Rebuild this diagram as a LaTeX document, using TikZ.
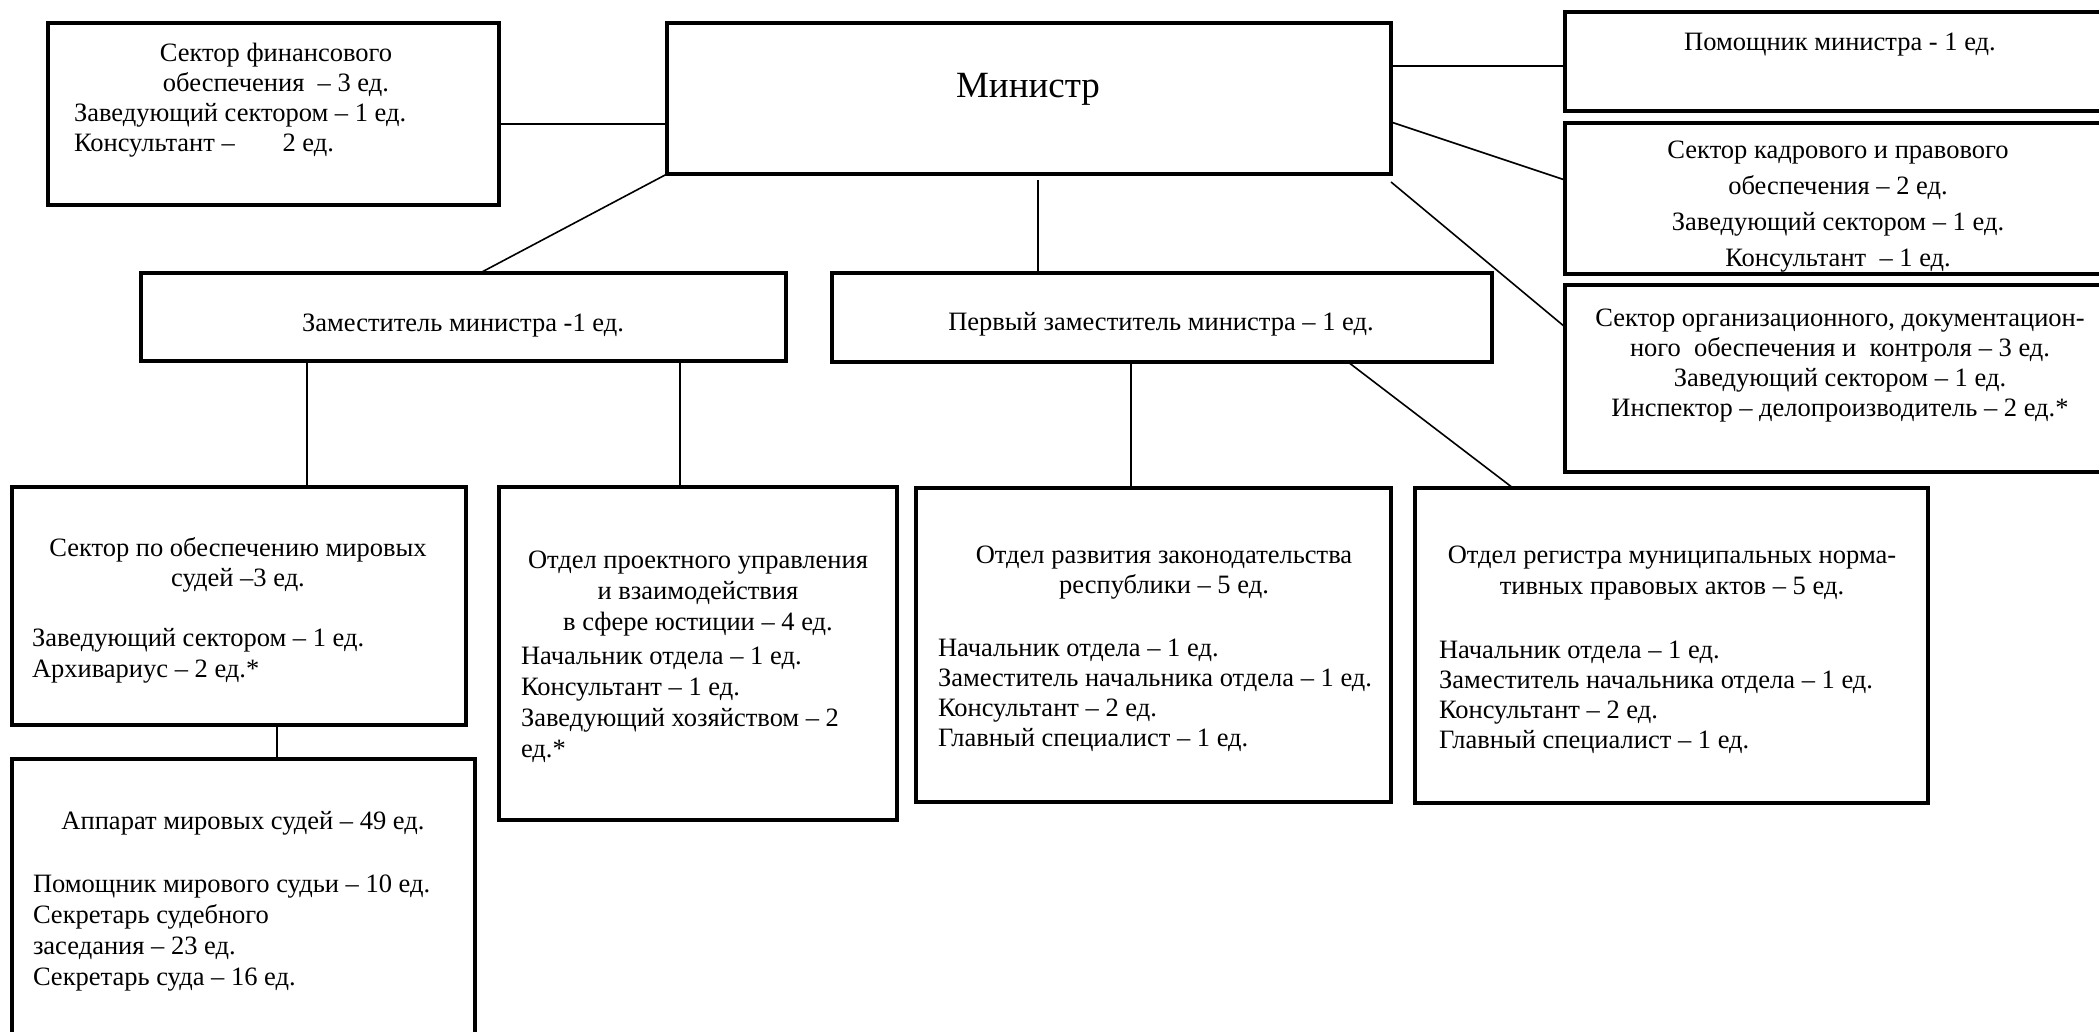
\documentclass[tikz,border=0pt]{standalone}
\usepackage{fontspec}
\setmainfont{Liberation Serif}
\newcommand\fsz[1]{\fontsize{26.5}{#1}\selectfont}
\begin{document}
\begin{tikzpicture}[x=1pt,y=-1pt,
  box/.style={draw, line width=3.2pt, inner sep=0pt, outer sep=0pt, anchor=north west},
  conn/.style={line width=1.6pt},
  ctr/.style={inner sep=0pt, outer sep=0pt, align=center, anchor=base},
  lft/.style={inner sep=0pt, outer sep=0pt, align=left, anchor=base west}]
\useasboundingbox (0,0) rectangle (2099,1031);
\clip (0,0) rectangle (2099,1031);
\fill[white] (0,0) rectangle (2099,1031);

% boxes
\node[box, minimum width=451, minimum height=182] (fin) at (48,23) {};
\node[box, minimum width=724, minimum height=151] (min) at (667,23) {};
\node[box, minimum width=560, minimum height=99] (pom) at (1565,12) {};
\node[box, minimum width=560, minimum height=151] (kad) at (1565,123) {};
\node[box, minimum width=560, minimum height=187] (org) at (1565,285) {};
\node[box, minimum width=645, minimum height=88] (zam) at (141,273) {};
\node[box, minimum width=660, minimum height=89] (pz) at (832,273) {};
\node[box, minimum width=454, minimum height=238] (sm) at (12,487) {};
\node[box, minimum width=463, minimum height=320] (app) at (12,759) {};
\node[box, minimum width=398, minimum height=333] (proj) at (499,487) {};
\node[box, minimum width=475, minimum height=314] (razv) at (916,488) {};
\node[box, minimum width=513, minimum height=315] (reg) at (1415,488) {};

% texts (multi-line nodes are anchored at the baseline of their last line)
\node[ctr, font=\fsz{30}] (fint) at (276,91) {Сектор финансового\\обеспечения\ \ – 3 ед.};
\node[lft, font=\fsz{30}] (finl) at (74,151) {Заведующий сектором – 1 ед.\\Консультант –\hspace{1.8em}2 ед.};
\node[ctr, font=\fontsize{37}{44}\selectfont] (mint) at (1028,97) {Министр};
\node[ctr, font=\fsz{30}] (pomt) at (1840,50) {Помощник министра - 1 ед.};
\node[ctr, font=\fsz{36}] (kadt) at (1838,266) {Сектор кадрового и правового\\обеспечения – 2 ед.\\Заведующий сектором – 1 ед.\\Консультант\ \ – 1 ед.};
\node[ctr, font=\fsz{30}] (orgt) at (1840,416) {Сектор организационного, документацион-\\ного\ \ обеспечения и\ \ контроля – 3 ед.\\Заведующий сектором – 1 ед.\\Инспектор – делопроизводитель – 2 ед.*};
\node[ctr, font=\fsz{30}] (zamt) at (463,331) {Заместитель министра -1 ед.};
\node[ctr, font=\fsz{30}] (pzt) at (1161,330) {Первый заместитель министра – 1 ед.};
\node[ctr, font=\fsz{30}] (smt) at (238,586) {Сектор по обеспечению мировых\\судей –3 ед.};
\node[lft, font=\fsz{31}] (sml) at (32,677) {Заведующий сектором – 1 ед.\\Архивариус – 2 ед.*};
\node[ctr, font=\fsz{30}] (appt) at (243,829) {Аппарат мировых судей – 49 ед.};
\node[lft, font=\fsz{31}] (appl) at (33,985) {Помощник мирового судьи – 10 ед.\\Секретарь судебного\\заседания – 23 ед.\\Секретарь суда – 16 ед.};
\node[ctr, font=\fsz{31}] (projt) at (698,630) {Отдел проектного управления\\и взаимодействия\\в сфере юстиции – 4 ед.};
\node[lft, font=\fsz{31}] (projl) at (521,757) {Начальник отдела – 1 ед.\\Консультант – 1 ед.\\Заведующий хозяйством – 2\\ед.*};
\node[ctr, font=\fsz{30}] (razvt) at (1164,593) {Отдел развития законодательства\\республики – 5 ед.};
\node[lft, font=\fsz{30}] (razvl) at (938,746) {Начальник отдела – 1 ед.\\Заместитель начальника отдела – 1 ед.\\Консультант – 2 ед.\\Главный специалист – 1 ед.};
\node[ctr, font=\fsz{31}] (regt) at (1672,594) {Отдел регистра муниципальных норма-\\тивных правовых актов – 5 ед.};
\node[lft, font=\fsz{30}] (regl) at (1439,748) {Начальник отдела – 1 ед.\\Заместитель начальника отдела – 1 ед.\\Консультант – 2 ед.\\Главный специалист – 1 ед.};

% connectors
\draw[conn] ([shift={(0,10)}]fin.east) -- ([shift={(0,10)}]fin.east -| min.west);
\draw[conn] ([shift={(0,4.5)}]pom.west -| min.east) -- ([shift={(0,4.5)}]pom.west);
\draw[conn] ([shift={(0,23.5)}]min.east) -- ([shift={(0,-18.5)}]kad.west);
\draw[conn] ([shift={(0,8)}]min.south east) -- ([shift={(0,-51.5)}]org.west);
\draw[conn] (min.south west) -- ([shift={(16.5,0)}]zam.north);
\draw[conn] ([shift={(9,6)}]min.south) -- ([xshift=9pt]min.south |- pz.north);
\draw[conn] ([shift={(166,0)}]zam.south west) -- ([shift={(166,0)}]zam.south west |- sm.north);
\draw[conn] ([shift={(539,0)}]zam.south west) -- ([shift={(539,0)}]zam.south west |- proj.north);
\draw[conn] ([shift={(299,0)}]pz.south west) -- ([shift={(299,0)}]pz.south west |- razv.north);
\draw[conn] ([shift={(516,0)}]pz.south west) -- ([shift={(98,0)}]reg.north west);
\draw[conn] ([shift={(265,0)}]sm.south west) -- ([shift={(265,0)}]sm.south west |- app.north);
\end{tikzpicture}
\end{document}
